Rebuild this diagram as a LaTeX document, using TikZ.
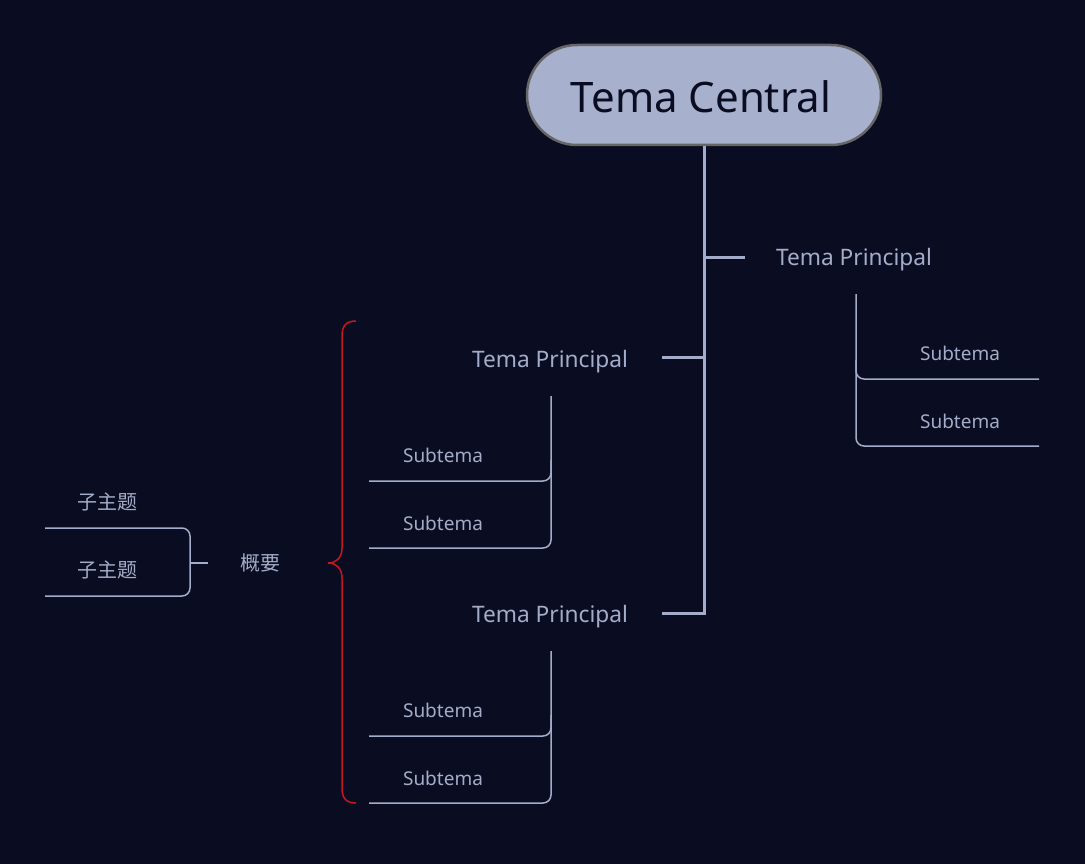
\documentclass[tikz,border=0pt]{standalone}
\usepackage{fontspec}
\setmainfont{Noto Sans}
\newfontfamily\cjk{Noto Sans CJK SC}
\definecolor{bg}{HTML}{0A0D21}
\definecolor{ln}{HTML}{A3ACC8}
\definecolor{cf}{HTML}{A7B0CC}
\definecolor{cb}{HTML}{666666}
\definecolor{rb}{HTML}{C8161D}
\begin{document}
\begin{tikzpicture}[x=1pt,y=-1pt,
  central/.style={draw=cb,line width=2.5pt,fill=cf,rounded corners=50pt,minimum width=354pt,minimum height=100pt,inner sep=0pt},
  centraltext/.style={text=bg,font=\fontsize{42}{50}\selectfont,inner sep=0pt},
  main/.style={text=ln,font=\fontsize{22.7}{28}\selectfont,inner sep=0pt},
  sub/.style={text=ln,font=\fontsize{19}{24}\selectfont,inner sep=0pt},
  subcn/.style={text=ln,font=\cjk\fontsize{20}{24}\selectfont,inner sep=0pt},
  trunk/.style={draw=ln,line width=3pt},
  thin/.style={draw=ln,line width=1.5pt,rounded corners=8pt},
  brace/.style={draw=rb,line width=1.5pt}]
\fill[bg] (0,0) rectangle (1085,864);
\useasboundingbox (0,0) rectangle (1085,864);

% central
\node[central] (c) at (704,95) {};
\node[centraltext] (ct) at (701,97) {Tema Central};

% main topics
\node[main] (m1) at (854,260) {Tema Principal};
\node[main] (m2) at (550,362) {Tema Principal};
\node[main] (m3) at (550,617) {Tema Principal};

% trunk
\coordinate (tend) at (704,613);
\coordinate (t1) at (704,257);
\coordinate (t2) at (704,357);
\coordinate (m1l) at (745,257);
\coordinate (m2r) at (662,357);
\coordinate (m3r) at (662,613);
\draw[trunk] (c.south) -- (tend) -- (m3r);
\draw[trunk] (t1) -- (m1l);
\draw[trunk] (t2) -- (m2r);

% right subtopics
\node[sub] (s11) at (960,353) {Subtema};
\node[sub] (s12) at (960,421) {Subtema};
\coordinate (r0) at (856,294);
\coordinate (r1) at (1039,379);
\coordinate (r2) at (1039,446);
\draw[thin] (r0) -- (856,446) -- (r2);
\draw[thin] (856,360) -- (856,379) -- (r1);

% left upper subtopics
\node[sub] (s21) at (443,455) {Subtema};
\node[sub] (s22) at (443,523) {Subtema};
\coordinate (u0) at (551,396);
\coordinate (u1) at (369,481);
\coordinate (u2) at (369,548);
\draw[thin] (u0) -- (551,548) -- (u2);
\draw[thin] (551,460) -- (551,481) -- (u1);

% left lower subtopics
\node[sub] (s31) at (443,710) {Subtema};
\node[sub] (s32) at (443,778) {Subtema};
\coordinate (l0) at (551,651);
\coordinate (l1) at (369,736);
\coordinate (l2) at (369,803);
\draw[thin] (l0) -- (551,803) -- (l2);
\draw[thin] (551,715) -- (551,736) -- (l1);

% summary brace
\coordinate (bt) at (356,321);
\coordinate (bb) at (356,803);
\coordinate (btip) at (328,563);
\draw[brace] (bt) .. controls (346,321) and (342,326) .. (342,336)
  -- (342,548) .. controls (342,558) and (336,563) .. (btip)
  .. controls (336,563) and (342,568) .. (342,578)
  -- (342,788) .. controls (342,798) and (346,803) .. (bb);

\node[subcn] (sum) at (260,563) {概要};
\node[subcn] (z1) at (107,502) {子主题};
\node[subcn] (z2) at (107,570) {子主题};
\coordinate (sl) at (208,563);
\coordinate (k1) at (45,528);
\coordinate (k2) at (45,596);
\draw[thin] (k1) -- (190,528) -- (190,596) -- (k2);
\draw[draw=ln,line width=1.5pt] (190,563) -- (sl);
\end{tikzpicture}
\end{document}
